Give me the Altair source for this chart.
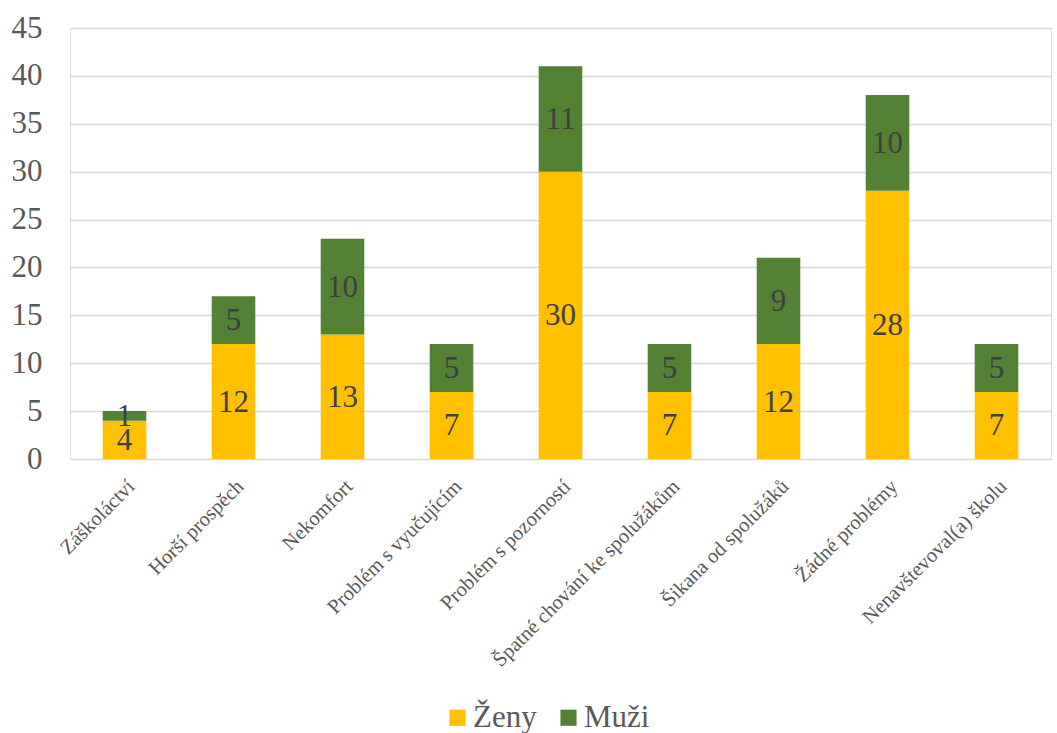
import altair as alt
import pandas as pd

categories = [
    "Záškoláctví",
    "Horší prospěch",
    "Nekomfort",
    "Problém s vyučujícím",
    "Problém s pozorností",
    "Špatné chování ke spolužákům",
    "Šikana od spolužáků",
    "Žádné problémy",
    "Nenavštevoval(a) školu",
]
zeny = [4, 12, 13, 7, 30, 7, 12, 28, 7]
muzi = [1, 5, 10, 5, 11, 5, 9, 10, 5]
series = ["Ženy", "Muži"]
colors = ["#FFC000", "#548235"]

rows = []
for i, c in enumerate(categories):
    rows.append({"cat": c, "series": "Ženy", "order": 0, "value": zeny[i]})
    rows.append({"cat": c, "series": "Muži", "order": 1, "value": muzi[i]})
df = pd.DataFrame(rows)

FONT = "Liberation Serif"

base = alt.Chart(df).transform_stack(
    stack="value", as_=["y0", "y1"], groupby=["cat"], sort=[alt.SortField("order")]
).transform_calculate(mid="(datum.y0 + datum.y1) / 2")

x_enc = alt.X(
    "cat:N",
    sort=categories,
    title=None,
    scale=alt.Scale(paddingInner=0.6, paddingOuter=0.3),
    axis=alt.Axis(
        labelAngle=-45,
        labelAlign="right",
        labelBaseline="top",
        labelFont=FONT,
        labelFontSize=20.5,
        labelColor="#595959",
        labelPadding=17,
        ticks=False,
        domain=False,
        grid=False,
        labelLimit=400,
    ),
)

bars = base.mark_bar().encode(
    x=x_enc,
    y=alt.Y(
        "y0:Q",
        title=None,
        scale=alt.Scale(domain=[0, 45]),
        axis=alt.Axis(
            values=list(range(0, 50, 5)),
            labelFont=FONT,
            labelFontSize=31,
            labelColor="#595959",
            labelPadding=28,
            ticks=False,
            domain=False,
            gridColor="#d9d9d9",
            gridWidth=1.5,
        ),
    ),
    y2="y1:Q",
    color=alt.Color(
        "series:N",
        scale=alt.Scale(domain=series, range=colors),
        legend=alt.Legend(
            title=None,
            orient="none",
            direction="horizontal",
            legendX=372,
            legendY=674,
            symbolType="square",
            symbolSize=260,
            symbolStrokeWidth=0,
            labelFont=FONT,
            labelFontSize=31,
            labelColor="#595959",
            columnPadding=16,
            labelOffset=0,
        ),
    ),
    order=alt.Order("order:Q"),
)

labels = base.mark_text(font=FONT, fontSize=31, color="#404040", baseline="middle", dy=1).encode(
    x=alt.X("cat:N", sort=categories),
    y=alt.Y("mid:Q"),
    text=alt.Text("value:Q"),
)

chart = (
    alt.layer(bars, labels)
    .properties(
        width=981,
        height=431,
        autosize=alt.AutoSizeParams(type="none"),
        padding={"left": 70, "top": 28, "right": 6, "bottom": 274},
    )
    .configure_view(stroke=None)
    .configure(background="white")
)

chart.save("out.html", embed_options={"renderer": "svg", "actions": False})
